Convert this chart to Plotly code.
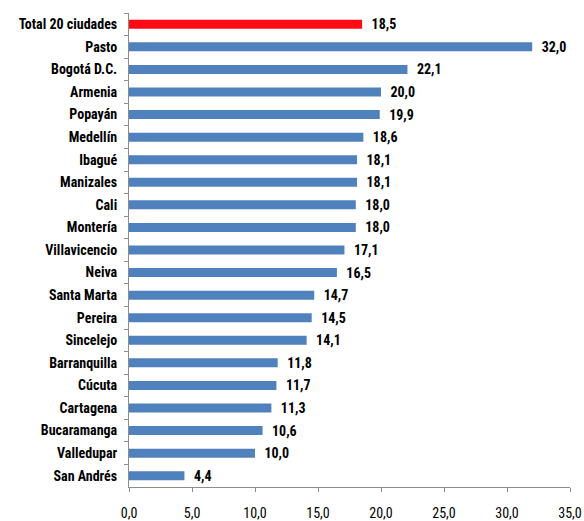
import plotly.graph_objects as go

cities = ["Total 20 ciudades", "Pasto", "Bogotá D.C.", "Armenia", "Popayán", "Medellín",
          "Ibagué", "Manizales", "Cali", "Montería", "Villavicencio", "Neiva",
          "Santa Marta", "Pereira", "Sincelejo", "Barranquilla", "Cúcuta", "Cartagena",
          "Bucaramanga", "Valledupar", "San Andrés"]
values = [18.5, 32.0, 22.1, 20.0, 19.9, 18.6, 18.1, 18.1, 18.0, 18.0, 17.1, 16.5,
          14.7, 14.5, 14.1, 11.8, 11.7, 11.3, 10.6, 10.0, 4.4]
colors = ["#FF0A14"] + ["#4F81BD"] * (len(cities) - 1)

FONT = "Roboto Condensed, Open Sans Condensed, Liberation Sans Narrow, Arial Narrow, sans-serif"
FS = 14

fig = go.Figure(go.Bar(
    x=values, y=cities, orientation="h",
    marker=dict(color=colors, line=dict(width=0)),
    text=["\u00a0\u00a0" + f"{v:.1f}".replace(".", ",") for v in values],
    textposition="outside", cliponaxis=False, constraintext="none",
    textfont=dict(family=FONT, size=FS, color="black", weight="bold"),
))

fig.update_layout(
    width=584, height=521,
    margin=dict(l=129, r=14, t=13, b=34),
    paper_bgcolor="white", plot_bgcolor="white",
    bargap=0.6, showlegend=False,
    separators=",.",
    font=dict(family=FONT, size=FS, color="black"),
)
fig.update_xaxes(range=[0, 35], dtick=5, tickformat=".1f", showgrid=False,
                 showline=True, linecolor="#8c8c8c", linewidth=1,
                 ticks="outside", ticklen=4, tickcolor="#8c8c8c",
                 ticklabelstandoff=9, zeroline=False, automargin=False,
                 tickfont=dict(family=FONT, size=FS, color="black"))
fig.update_yaxes(autorange="reversed", showgrid=False, showline=True,
                 linecolor="#8c8c8c", linewidth=1, ticks="outside", ticklen=4,
                 tickcolor="#8c8c8c", tickson="boundaries", ticklabelstandoff=8,
                 automargin=False,
                 tickfont=dict(family=FONT, size=FS, color="black", weight="bold"))

fig.write_html("out.html")
